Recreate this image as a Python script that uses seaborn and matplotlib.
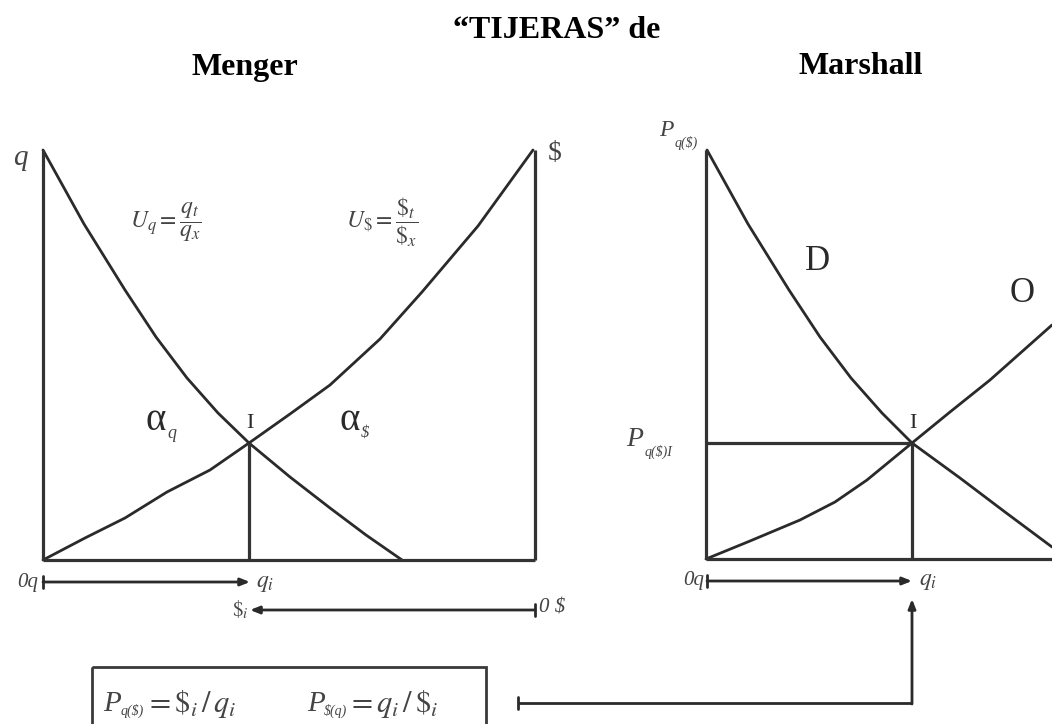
import matplotlib
matplotlib.use("Agg")
import matplotlib.pyplot as plt
import seaborn as sns
import pandas as pd

# curve points (pixel units of the 1052x724 image)
menger_q_x = [43, 84, 125, 156, 187, 218, 249, 290, 330, 366, 402]
menger_q_y = [150, 224, 290, 337, 378, 413, 443, 477, 508, 535, 560]
menger_s_x = [43, 85, 125, 167, 210, 249, 290, 330, 380, 422, 478, 533]
menger_s_y = [560, 538, 518, 492, 470, 443, 414, 385, 339, 292, 226, 150]

marshall_d_x = [707, 748, 789, 820, 851, 882, 912, 960, 1005, 1052]
marshall_d_y = [150, 224, 290, 337, 378, 413, 443, 478, 512, 547]
marshall_o_x = [706, 750, 800, 835, 867, 912, 950, 990, 1052]
marshall_o_y = [559, 541, 520, 502, 480, 443, 412, 380, 325]

curves = pd.concat([
    pd.DataFrame({"x": menger_q_x, "y": menger_q_y, "curva": "Uq"}),
    pd.DataFrame({"x": menger_s_x, "y": menger_s_y, "curva": "U$"}),
    pd.DataFrame({"x": marshall_d_x, "y": marshall_d_y, "curva": "D"}),
    pd.DataFrame({"x": marshall_o_x, "y": marshall_o_y, "curva": "O"}),
], ignore_index=True)

sns.set_style("white")
plt.rcParams["font.family"] = ["Liberation Serif", "DejaVu Serif"]
plt.rcParams["mathtext.fontset"] = "stix"

ink = "#2a2a2a"
grey = "#444444"

fig = plt.figure(figsize=(10.52, 7.24), dpi=100)
ax = fig.add_axes([0, 0, 1, 1])
ax.set_xlim(0, 1052)
ax.set_ylim(724, 0)
ax.axis("off")

for name, sub in curves.groupby("curva", sort=False):
    sns.lineplot(data=sub, x="x", y="y", sort=False, estimator=None,
                 color=ink, lw=2.0, ax=ax, legend=False)

# marcos de los dos paneles
frame = dict(color="#333333", lw=2.3, solid_capstyle="butt")
ax.plot([43, 43], [150, 560], **frame)
ax.plot([535, 535], [150, 560], **frame)
ax.plot([43, 535], [560, 560], **frame)
ax.plot([249, 249], [443, 560], **frame)

ax.plot([706, 706], [150, 559], **frame)
ax.plot([706, 1052], [559, 559], **frame)
ax.plot([912, 912], [443, 559], **frame)
ax.plot([706, 912], [443, 443], **frame)

# flechas
arr = dict(arrowstyle="-|>,head_length=0.55,head_width=0.22", color=ink, lw=2.0,
           shrinkA=0, shrinkB=0)
ax.annotate("", xy=(250, 582), xytext=(43, 582), arrowprops=arr)
ax.plot([43, 43], [576, 588], color=ink, lw=2)
ax.annotate("", xy=(250, 610), xytext=(535, 610), arrowprops=arr)
ax.plot([535, 535], [604, 616], color=ink, lw=2)
ax.annotate("", xy=(912, 581), xytext=(707, 581), arrowprops=arr)
ax.plot([707, 707], [575, 587], color=ink, lw=2)
ax.plot([518, 912], [703, 703], color=ink, lw=2, solid_capstyle="butt")
ax.plot([518, 518], [697, 709], color=ink, lw=2)
ax.annotate("", xy=(912, 599), xytext=(912, 704), arrowprops=arr)

# recuadro
ax.add_patch(plt.Rectangle((92, 667), 394, 70, fill=False, ec="#3a3a3a", lw=2.0))

# titulos
title_kw = dict(ha="center", va="center", fontsize=23, fontweight="bold", color="black")
ax.text(557, 30, "“TIJERAS” de", **title_kw)
ax.text(245, 67, "Menger", **title_kw)
ax.text(861, 67, "Marshall", **title_kw)

# etiquetas panel Menger
ax.text(20, 158, "q", style="italic", fontsize=21, color=grey, ha="center", va="center")
ax.text(555, 153, "$", fontsize=20, color=grey, ha="center", va="center")
ax.text(166, 222, r"$U_q = \dfrac{q_t}{q_x}$", fontsize=17, color=grey, ha="center", va="center")
ax.text(382, 222, r"$U_\$ = \dfrac{\$_t}{\$_x}$", fontsize=17, color=grey, ha="center", va="center")
ax.text(156, 420, "α", fontsize=28, color=ink, ha="center", va="center")
ax.text(167, 433, "q", style="italic", fontsize=13, color=grey, ha="left", va="center")
ax.text(350, 420, "α", fontsize=28, color=ink, ha="center", va="center")
ax.text(361, 433, "$", style="italic", fontsize=12, color=grey, ha="left", va="center")
ax.text(250, 424, "I", fontsize=16, color=ink, ha="center", va="center")
ax.text(38, 582, "0q", style="italic", fontsize=15, color=grey, ha="right", va="center")
ax.text(256, 583, r"$q_i$", fontsize=17, color=grey, ha="left", va="center")
ax.text(249, 610, r"$\$_i$", fontsize=15, color=grey, ha="right", va="center")
ax.text(539, 608, "0 $", style="italic", fontsize=15, color=grey, ha="left", va="center")

# etiquetas panel Marshall
ax.text(666, 131, "P", style="italic", fontsize=17, color=grey, ha="center", va="center")
ax.text(675, 143, "q($)", style="italic", fontsize=10, color=grey, ha="left", va="center")
ax.text(817, 262, "D", fontsize=25, color=ink, ha="center", va="center")
ax.text(1022, 294, "O", fontsize=25, color=ink, ha="center", va="center")
ax.text(913, 424, "I", fontsize=16, color=ink, ha="center", va="center")
ax.text(635, 440, "P", style="italic", fontsize=20, color=grey, ha="center", va="center")
ax.text(645, 452, "q($)I", style="italic", fontsize=10, color=grey, ha="left", va="center")
ax.text(704, 581, "0q", style="italic", fontsize=15, color=grey, ha="right", va="center")
ax.text(919, 582, r"$q_i$", fontsize=17, color=grey, ha="left", va="center")

# formulas del recuadro
ax.text(112, 704, "P", style="italic", fontsize=21, color=grey, ha="center", va="center")
ax.text(121, 711, "q($)", style="italic", fontsize=10, color=grey, ha="left", va="center")
ax.text(145, 704, r"$= \$_i\,/\,q_i$", fontsize=22, color=grey, ha="left", va="center")
ax.text(316, 704, "P", style="italic", fontsize=21, color=grey, ha="center", va="center")
ax.text(324, 711, "$(q)", style="italic", fontsize=10, color=grey, ha="left", va="center")
ax.text(347, 704, r"$= q_i\,/\,\$_i$", fontsize=22, color=grey, ha="left", va="center")

fig.savefig("out.png", dpi=100, facecolor="white")
